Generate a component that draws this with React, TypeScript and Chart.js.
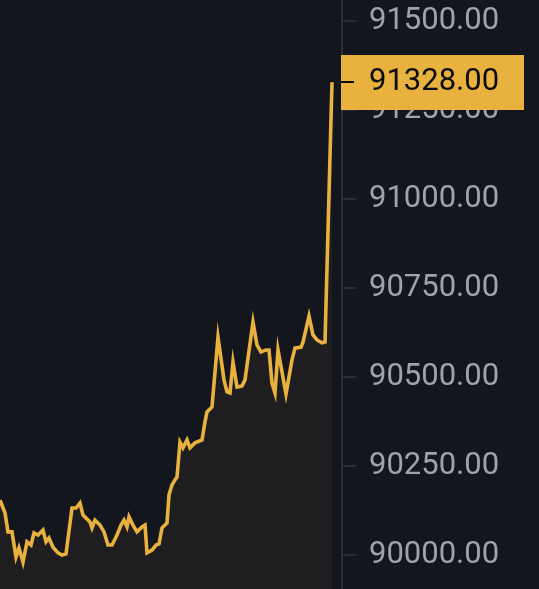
import React, { useEffect, useRef } from "react";
import { Chart, registerables } from "chart.js";

Chart.register(...registerables);

// time offsets (arbitrary units along the x axis) and prices
const times: number[] = [
  0, 5, 8, 12, 16, 19, 23, 27, 31, 34, 38, 43, 46, 49, 53, 58, 62, 66, 72, 76,
  80, 83, 87, 90, 92, 95, 100, 104, 108, 112, 117, 121, 124, 127, 129, 133, 137, 142, 145, 147,
  152, 156, 159, 162, 167, 169, 172, 175, 177, 180, 183, 187, 190, 195, 202, 205, 207, 212, 218, 224,
  227, 230, 233, 237, 242, 245, 253, 257, 261, 266, 269, 272, 275, 278, 286, 292, 295, 301, 303, 309,
  313, 317, 322, 325, 332,
];
const prices: number[] = [
  90154, 90118, 90065, 90065, 89994, 90020, 89980, 90037, 90028, 90062, 90056, 90070, 90037, 90048, 90022, 90006, 90000, 90003, 90132, 90132,
  90146, 90112, 90101, 90093, 90076, 90098, 90084, 90065, 90028, 90028, 90056, 90084, 90098, 90079, 90107, 90084, 90065, 90079, 90084, 90006,
  90014, 90028, 90031, 90076, 90090, 90169, 90197, 90211, 90219, 90317, 90301, 90323, 90301, 90315, 90323, 90374, 90402, 90416, 90612, 90492,
  90458, 90455, 90542, 90472, 90475, 90492, 90654, 90590, 90570, 90576, 90576, 90483, 90455, 90576, 90452, 90548, 90581, 90584, 90598, 90671,
  90618, 90604, 90596, 90598, 91328,
];
const lastPrice = 91328;
const tickValues: number[] = [90000, 90250, 90500, 90750, 91000, 91250, 91500];

const BG = "#13161d";
const LINE = "#e9b13d";
const FILL = "#1e1e20";
const AXIS = "#2a2e39";
const LABEL = "#9fa3aa";
const FONT = "Roboto";

export default function App() {
  const ref = useRef<HTMLCanvasElement | null>(null);

  useEffect(() => {
    document.body.style.margin = "0";
    document.body.style.background = BG;
    const canvas = ref.current!;
    const bgPlugin = {
      id: "bg",
      beforeDraw(chart: any) {
        const ctx = chart.ctx;
        ctx.save();
        ctx.fillStyle = BG;
        ctx.fillRect(0, 0, chart.width, chart.height);
        ctx.restore();
      },
    };
    const pricePlugin = {
      id: "priceTag",
      afterDraw(chart: any) {
        const y = chart.scales.y.getPixelForValue(lastPrice);
        const ctx = chart.ctx;
        const left = chart.chartArea.right - 1;
        ctx.save();
        ctx.fillStyle = LINE;
        ctx.fillRect(left, Math.round(y - 27.5), 524 - left, 55);
        ctx.fillStyle = "#0b0e11";
        ctx.fillRect(left, Math.round(y) - 1, 13, 2);
        ctx.font = `400 31px ${FONT}`;
        ctx.textBaseline = "middle";
        ctx.textAlign = "left";
        ctx.fillText(lastPrice.toFixed(2), chart.chartArea.right + 27, y);
        ctx.restore();
      },
    };
    const chart = new Chart(canvas, {
      type: "line",
      data: {
        datasets: [
          {
            data: times.map((t, i) => ({ x: t, y: prices[i] })),
            borderColor: LINE,
            backgroundColor: FILL,
            borderWidth: 3.6,
            borderJoinStyle: "miter",
            pointRadius: 0,
            tension: 0,
            fill: "start",
          },
        ],
      },
      options: {
        animation: false,
        responsive: false,
        devicePixelRatio: 1,
        layout: { padding: 0 },
        plugins: { legend: { display: false }, tooltip: { enabled: false } },
        scales: {
          x: { type: "linear", display: false, min: 0, max: 342 },
          y: {
            position: "right",
            min: 89904.5,
            max: 91559,
            afterBuildTicks(scale: any) {
              scale.ticks = tickValues.map((v) => ({ value: v }));
            },
            afterFit(scale: any) {
              scale.width = 197;
              scale.paddingTop = 0;
              scale.paddingBottom = 0;
            },
            grid: {
              drawOnChartArea: false,
              drawTicks: true,
              tickLength: 14,
              color: AXIS,
              lineWidth: 2,
            },
            border: { display: true, color: AXIS, width: 2 },
            ticks: {
              padding: 13,
              color: LABEL,
              font: { family: FONT, size: 31, weight: "400" },
              callback: (v: any) => Number(v).toFixed(2),
            },
          },
        },
      },
      plugins: [bgPlugin, pricePlugin],
    });
    return () => chart.destroy();
  }, []);

  return (
    <div style={{ width: 539, height: 589, position: "relative" }}>
      <canvas ref={ref} width={539} height={589} style={{ display: "block" }} />
    </div>
  );
}
